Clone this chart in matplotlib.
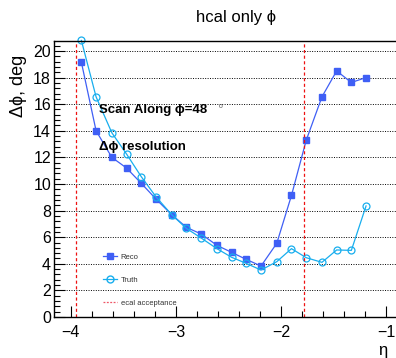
import numpy as np
import matplotlib
matplotlib.use('Agg')
import matplotlib.pyplot as plt
from matplotlib.ticker import MultipleLocator
from matplotlib.lines import Line2D

plt.rcParams['font.family'] = ['Liberation Sans', 'DejaVu Sans']

# eta bin centres
eta = [-3.90, -3.76, -3.61, -3.47, -3.33, -3.19, -3.04, -2.90, -2.76, -2.61,
       -2.47, -2.33, -2.19, -2.04, -1.90, -1.76, -1.61, -1.47, -1.33, -1.19]
# delta phi resolution, deg
reco = [19.15, 14.0, 12.0, 11.2, 10.05, 8.87, 7.69, 6.74, 6.24, 5.39,
        4.86, 4.33, 3.83, 5.54, 9.14, 13.28, 16.55, 18.5, 17.63, 18.0]
truth = [20.79, 16.55, 13.85, 12.25, 10.55, 9.04, 7.69, 6.66, 5.94, 5.14,
         4.49, 4.03, 3.53, 4.16, 5.14, 4.46, 4.11, 5.04, 5.01, 8.35]
ecal_acc = [-3.95, -1.78]

reco_col = '#3f5ff5'
truth_col = '#18aeee'
phi = '\u03d5'

fig = plt.figure(figsize=(3.96, 3.58), dpi=100)
ax = fig.add_axes([0.136, 0.1145, 0.864, 0.771])

ax.plot(eta, reco, color=reco_col, marker='s', ms=5.0, lw=0.9, mec=reco_col, mfc=reco_col, clip_on=False)
ax.plot(eta, truth, color=truth_col, marker='o', ms=5.0, lw=0.9, mec=truth_col, mfc='none', mew=0.9, clip_on=False)
for e in ecal_acc:
    ax.axvline(e, color='#ee1111', ls=(0, (2.5, 2)), lw=0.9)

ax.set_xlim(-4.162, -0.905)
ax.set_ylim(0, 20.75)
ax.xaxis.set_major_locator(MultipleLocator(1))
ax.xaxis.set_minor_locator(MultipleLocator(0.2))
ax.yaxis.set_major_locator(MultipleLocator(2))
ax.yaxis.set_minor_locator(MultipleLocator(0.4))
ax.tick_params(which='both', direction='in', top=False, right=False, labelsize=11.5, width=0.8)
ax.tick_params(which='major', length=8)
ax.tick_params(which='minor', length=4)
ax.tick_params(axis='x', pad=6)
ax.tick_params(axis='y', pad=2)
ax.spines['right'].set_visible(False)
for s in ['left', 'top', 'bottom']:
    ax.spines[s].set_linewidth(1.0)

for yv in range(2, 21, 2):
    ax.axhline(yv, color='black', ls=(0, (1, 1.5)), lw=0.7, zorder=0)

fig.text(0.596, 0.952, 'hcal only ' + phi, ha='center', va='center', fontsize=12)
fig.text(0.047, 0.76, '\u0394' + phi + ', deg', rotation=90, ha='center', va='center', fontsize=13)
fig.text(0.967, 0.022, '\u03b7', ha='center', va='center', fontsize=12)

ax.text(-3.735, 15.55, 'Scan Along ' + phi + '=48', fontsize=9.5, fontweight='bold', va='center')
ax.text(-2.59, 15.8, 'o', fontsize=5, va='center', color='#555555')
ax.text(-3.735, 12.8, '\u0394' + phi + ' resolution', fontsize=9.5, fontweight='bold', va='center')

handles = [
    Line2D([], [], color=reco_col, marker='s', ms=5, lw=0.9),
    Line2D([], [], color=truth_col, marker='o', ms=5, lw=0.9, mfc='none'),
    Line2D([], [], color='#ee5566', ls=(0, (1.5, 1.2)), lw=0.9),
]
ax.legend(handles, ['Reco', 'Truth', 'ecal acceptance'], loc='lower left',
          bbox_to_anchor=(0.125, 0.012), frameon=False, fontsize=5.5,
          labelspacing=2.05, handlelength=1.8, handletextpad=0.45,
          labelcolor='#333333')

fig.savefig('out.png', dpi=100)
